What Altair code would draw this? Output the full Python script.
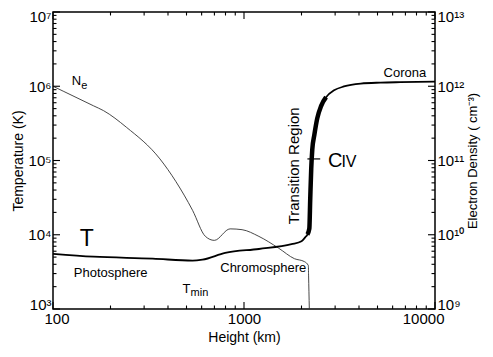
import altair as alt
import pandas as pd

# ---------------- data ----------------
# Temperature profile (height in km, T in K)
t_height = [100, 163, 333, 538, 606, 797, 1197, 1774, 2000, 2090, 2147, 2198, 2223, 2249,
            2278, 2335, 2418, 2535, 2690, 2962, 3337, 4085, 5185, 6589, 10000]
t_temp = [5530, 5060, 4770, 4480, 4620, 5700, 6430, 7470, 8170, 9200, 10070, 12050, 31500, 77400,
          141000, 221000, 369000, 545000, 713000, 881000, 993000, 1086000, 1119000, 1135000, 1153000]

# Electron density profile (height in km, Ne in cm^-3)
ne_height = [100, 114, 163, 184, 242, 363, 439, 538, 628, 699, 846, 977, 1197, 1518, 1837,
             2070, 2172, 2178, 2198]
ne_density = [1.0e12, 8.5e11, 5.45e11, 4.69e11, 2.81e11, 1.05e11, 5.25e10, 2.13e10, 9.5e9, 8.4e9,
              1.2e10, 1.17e10, 9.5e9, 6.6e9, 4.76e9, 4.35e9, 3.85e9, 2.86e9, 1.0e9]

# height range of the C IV (thick) part of the T curve
civ_range = [2140, 2700]
# C IV marker
civ_tick_height = [2148, 2506]
civ_tick_temp = [1.05e5]

# axis ticks / labels
x_major = [100, 1000, 10000]
x_minor = [200, 300, 400, 500, 600, 700, 800, 900, 2000, 3000, 4000, 5000, 6000, 7000, 8000, 9000]
y_major = [1e3, 1e4, 1e5, 1e6, 1e7]
y_minor = [m * 10 ** e for e in range(3, 7) for m in range(2, 10)]
y_exponents = [3, 4, 5, 6, 7]
left_labels = ['10³', '10⁴', '10⁵', '10⁶', '10⁷']
right_labels = ['10⁹', '10¹⁰', '10¹¹', '10¹²', '10¹³']

# annotations (data coordinates: height, temperature scale)
ann_text = ['Photosphere', 'Chromosphere', 'Corona', 'N', 'T']
ann_x = [128.5, 751, 5380, 125.4, 477]
ann_y = [2690, 3126, 1.34e6, 1.054e6, 1665]
sub_text = ['e', 'min']
sub_x = [140.5, 525]
sub_y = [9.2e5, 1476]
bigT_text = ['T']
bigT_x = [138]
bigT_y = [7030]
c_text = ['C']
c_x = [2757]
c_y = [82200]
iv_text = ['IV']
iv_x = [3236]
iv_y = [82200]
tr_text = ['Transition Region']
tr_x = [1837]
tr_y = [84700]

# ---------------- chart ----------------
W, H = 382, 297
FONT = 'Liberation Sans'
X_DEC = W / 2.0   # pixels per decade on x
Y_DEC = H / 4.0   # pixels per decade on y
MAJOR_LEN, MINOR_LEN = 7, 3.5

t_df = pd.DataFrame({'h': t_height, 'T': t_temp})
ne_df = pd.DataFrame({'h': ne_height, 'ne': ne_density})
xt_df = pd.DataFrame({'tick': x_major + x_minor,
                      'major': [True] * len(x_major) + [False] * len(x_minor)})
yt_df = pd.DataFrame({'tick': y_major + y_minor,
                      'major': [True] * len(y_major) + [False] * len(y_minor)})

xscale = alt.Scale(type='log', domain=[100, 10000], nice=False)
yscale = alt.Scale(type='log', domain=[1e3, 1e7], nice=False)


def exp_expr(labels):
    parts = [f"round(log(datum.value)/LN10) == {e} ? '{l}'" for e, l in zip(y_exponents, labels)]
    return " : ".join(parts) + " : ''"


x_label_axis = alt.Axis(orient='bottom', values=x_major, labelExpr="format(datum.value, 'd')",
                        ticks=False, tickSize=0, domain=False, grid=False, labelFontSize=15,
                        labelPadding=2, labelFlush=True, labelFlushOffset=9, labelColor='black',
                        labelFont=FONT, title='Height (km)', titleFontSize=14,
                        titleFontWeight='normal', titlePadding=4, titleColor='black', titleFont=FONT)
y_left_axis = alt.Axis(orient='left', values=y_major, labelExpr=exp_expr(left_labels),
                       ticks=False, tickSize=0, domain=False, grid=False, labelFontSize=15,
                       labelPadding=2, labelFlush=True, labelFlushOffset=3, labelColor='black',
                       labelFont=FONT, title='Temperature (K)', titleFontSize=14,
                       titleFontWeight='normal', titlePadding=2, titleColor='black', titleFont=FONT)
y_right_axis = alt.Axis(orient='right', values=y_major, labelExpr=exp_expr(right_labels),
                        ticks=False, tickSize=0, domain=False, grid=False, labelFontSize=15,
                        labelPadding=2, labelFlush=True, labelFlushOffset=3, labelColor='black',
                        labelFont=FONT, title='Electron Density ( cm⁻³)', titleFontSize=13,
                        titleFontWeight='normal', titlePadding=3, titleColor='black',
                        titleFont=FONT, titleAngle=270, titleBaseline='top')

ne_line = alt.Chart(ne_df).transform_calculate(
    ne_s='datum.ne / 1000000'
).mark_line(color='#333333', strokeWidth=0.9, interpolate='monotone').encode(
    x=alt.X('h:Q', scale=xscale, axis=x_label_axis),
    y=alt.Y('ne_s:Q', scale=yscale, axis=y_left_axis),
)

t_line = alt.Chart(t_df).mark_line(color='black', strokeWidth=1.8, interpolate='monotone').encode(
    x=alt.X('h:Q', scale=xscale, axis=None),
    y=alt.Y('T:Q', scale=yscale, axis=None),
)

thick = alt.Chart(t_df).transform_filter(
    alt.FieldRangePredicate(field='h', range=civ_range)
).mark_line(color='black', strokeWidth=4.5, interpolate='monotone').encode(
    x=alt.X('h:Q', scale=xscale, axis=None),
    y=alt.Y('T:Q', scale=yscale, axis=None),
)

# inward tick marks on all four sides, placed through the scales
len_expr = f"datum.major ? {MAJOR_LEN} : {MINOR_LEN}"


def x_ticks(edge_value, direction):
    return alt.Chart(xt_df).transform_calculate(
        ln=len_expr
    ).transform_calculate(
        y0=f"{edge_value}",
        y1=f"{edge_value} * pow(10, {direction} * datum.ln / {Y_DEC})",
    ).mark_rule(color='black', strokeWidth=1.1).encode(
        x=alt.X('tick:Q', scale=xscale, axis=None),
        y=alt.Y('y0:Q', scale=yscale, axis=None),
        y2='y1:Q',
    )


def y_ticks(edge_value, direction):
    return alt.Chart(yt_df).transform_calculate(
        ln=len_expr
    ).transform_calculate(
        x0=f"{edge_value}",
        x1=f"{edge_value} * pow(10, {direction} * datum.ln / {X_DEC})",
    ).mark_rule(color='black', strokeWidth=1.1).encode(
        y=alt.Y('tick:Q', scale=yscale, axis=None),
        x=alt.X('x0:Q', scale=xscale, axis=None),
        x2='x1:Q',
    )


ticks_bottom = x_ticks(1000, 1)
ticks_top = x_ticks(10000000, -1)
ticks_left = y_ticks(100, 1)
ticks_right = y_ticks(10000, -1)


def text_layer(texts, xs, ys, size, **kw):
    df = pd.DataFrame({'label': texts, 'x': xs, 'y': ys})
    props = dict(align='left', baseline='alphabetic', fontSize=size, font=FONT, color='black')
    props.update(kw)
    return alt.Chart(df).mark_text(**props).encode(
        x=alt.X('x:Q', scale=xscale, axis=None),
        y=alt.Y('y:Q', scale=yscale, axis=None),
        text='label:N',
    )


ann = text_layer(ann_text, ann_x, ann_y, 13)
subs = text_layer(sub_text, sub_x, sub_y, 11)
big_t = text_layer(bigT_text, bigT_x, bigT_y, 23)
c_lab = text_layer(c_text, c_x, c_y, 20)
iv_lab = text_layer(iv_text, iv_x, iv_y, 16)
tr_lab = text_layer(tr_text, tr_x, tr_y, 15, angle=270, align='center', baseline='middle')

civ_df = pd.DataFrame({'x1': [civ_tick_height[0]], 'x2': [civ_tick_height[1]], 'y': civ_tick_temp})
civ_tick = alt.Chart(civ_df).mark_rule(color='black', strokeWidth=1.2).encode(
    x=alt.X('x1:Q', scale=xscale, axis=None),
    x2='x2:Q',
    y=alt.Y('y:Q', scale=yscale, axis=y_right_axis),
)

chart = alt.layer(
    ne_line, t_line, thick, ticks_bottom, ticks_top, ticks_left, ticks_right,
    ann, subs, civ_tick, big_t, c_lab, iv_lab, tr_lab
).resolve_axis(
    x='independent', y='independent'
).properties(
    width=W, height=H,
    autosize=alt.AutoSizeParams(type='none'),
    padding={'left': 45, 'top': 4, 'right': 50, 'bottom': 36},
).configure(
    font=FONT, view=alt.ViewConfig(stroke='black', strokeWidth=1.5)
)

chart.save("out.html", embed_options={"renderer": "svg", "actions": False})
